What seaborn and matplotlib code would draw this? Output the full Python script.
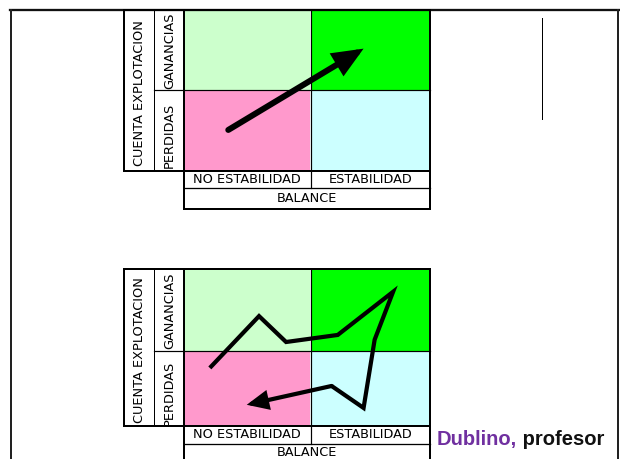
import matplotlib
matplotlib.use('Agg')
import matplotlib.pyplot as plt
from matplotlib.colors import ListedColormap
import pandas as pd
import seaborn as sns

# quadrant colours: ganancias row (no estab., estab.), perdidas row (no estab., estab.)
quadrant_colors = ['#CCFFCC', '#00FF00', '#FF99CC', '#CCFFFF']
quadrant_codes = [[0, 1], [2, 3]]
balance_labels = ['NO ESTABILIDAD', 'ESTABILIDAD']
cuenta_labels = ['GANANCIAS', 'PERDIDAS']
balance_title = 'BALANCE'
cuenta_title = 'CUENTA EXPLOTACION'

# paths in grid units: x 0..2 (balance, left->right), y 0..2 (cuenta, bottom->top)
path_top_x = [0.36, 1.46]
path_top_y = [0.51, 1.52]
path_bottom_x = [0.21, 0.61, 0.83, 1.25, 1.70, 1.55, 1.46, 1.20, 0.51]
path_bottom_y = [0.74, 1.40, 1.07, 1.16, 1.71, 1.10, 0.23, 0.51, 0.27]

caption_name = 'Dublino,'
caption_rest = ' profesor'

W, H = 620, 459
PX = 0.72  # points per pixel at dpi 100

sns.set_style('white')
plt.rcParams['font.family'] = ['DejaVu Sans']

fig = plt.figure(figsize=(W / 100, H / 100), dpi=100)
cmap = ListedColormap(quadrant_colors)


def frac(x0, y0, x1, y1):
    return [x0 / W, 1 - y1 / H, (x1 - x0) / W, (y1 - y0) / H]


# diagram layout (pixels)
diagrams = [dict(top=10, mid=90, bottom=171, row1=188, row2=209),
            dict(top=269, mid=351, bottom=426, row1=444, row2=462)]
X0, X1, X2, X3, X4 = 124, 154, 184, 310.5, 430

# quadrant cells drawn as seaborn heatmaps (one cell per axes, the cells are not equal)
for d in diagrams:
    rows = [(d['top'], d['mid']), (d['mid'], d['bottom'])]
    cols = [(X2, X3), (X3, X4)]
    for r, (y0, y1) in enumerate(rows):
        for c, (x0, x1) in enumerate(cols):
            hax = fig.add_axes(frac(x0, y0, x1, y1))
            df = pd.DataFrame([[quadrant_codes[r][c]]], index=[cuenta_labels[r]],
                              columns=[balance_labels[c]])
            sns.heatmap(df, cmap=cmap, vmin=0, vmax=3, cbar=False, linewidths=0,
                        xticklabels=False, yticklabels=False, ax=hax)
            hax.set_xlabel('')
            hax.set_ylabel('')

# overlay for frame, borders and labels
ov = fig.add_axes([0, 0, 1, 1])
ov.set_xlim(0, W)
ov.set_ylim(H, 0)
ov.axis('off')
ov.patch.set_alpha(0)


def seg(x0, y0, x1, y1, px=1.0, color='black'):
    ov.plot([x0, x1], [y0, y1], color=color, lw=px * PX, solid_capstyle='projecting')


# page frame
seg(10, 9.5, 619, 9.5, 2.3, '#111111')
seg(11.3, 9.5, 11.3, 470, 2.0, '#222222')
seg(618.3, 9.5, 618.3, 470, 2.0, '#222222')
seg(542.3, 18, 542.3, 119, 1.0)

lab_font = dict(fontsize=9.3, color='black', family='DejaVu Sans')
for d in diagrams:
    t, m, b, r1, r2 = d['top'], d['mid'], d['bottom'], d['row1'], d['row2']
    seg(X0, t, X4, t, 2.0)
    seg(X0, t, X0, b, 2.0)
    seg(X0, b, X4, b, 2.0)
    seg(X1, t, X1, b, 1.0)
    seg(X1, m, X4, m, 1.2)
    seg(X3, t, X3, r1, 1.2)
    seg(X2, t, X2, r2, 2.0)
    seg(X4, t, X4, r2, 2.0)
    seg(X2, r1, X4, r1, 1.3)
    seg(X2, r2, X4, r2, 2.0)

    ov.text((X0 + X1) / 2 + 0.5, (t + b) / 2 + 3, cuenta_title, rotation=90,
            ha='center', va='center', **lab_font)
    ov.text((X1 + X2) / 2 + 0.5, (t + m) / 2 + 1, cuenta_labels[0], rotation=90,
            ha='center', va='center', **lab_font)
    ov.text((X1 + X2) / 2 + 0.5, (m + b) / 2 + 5, cuenta_labels[1], rotation=90,
            ha='center', va='center', **lab_font)
    ov.text((X2 + X3) / 2, (b + r1) / 2, balance_labels[0], ha='center', va='center', **lab_font)
    ov.text((X3 + X4) / 2, (b + r1) / 2, balance_labels[1], ha='center', va='center', **lab_font)
    ov.text((X2 + X4) / 2, (r1 + r2) / 2, balance_title, ha='center', va='center', **lab_font)

# caption
t1 = ov.text(436.5, 445, caption_name, color='#7030A0', fontsize=14.5,
             fontweight='bold', family='Liberation Sans', ha='left', va='baseline')
ov.annotate(caption_rest, xy=(1, 0), xycoords=t1, color='#111111', fontsize=14.5,
            fontweight='bold', family='Liberation Sans', ha='left', va='bottom')

# paths on top of each grid
for d, xs, ys, lw_px, hl, hw in [(diagrams[0], path_top_x, path_top_y, 6.0, 0.75, 0.32),
                                 (diagrams[1], path_bottom_x, path_bottom_y, 4.2, 0.55, 0.25)]:
    pax = fig.add_axes(frac(X2, d['top'], X4, d['bottom']))
    pax.set_xlim(0, 2)
    pax.set_ylim(0, 2)
    pax.axis('off')
    pax.patch.set_alpha(0)
    if len(xs) > 2:
        pax.plot(xs[:-1], ys[:-1], color='black', lw=lw_px * PX,
                 solid_joinstyle='miter', solid_capstyle='butt')
    pax.annotate('', xy=(xs[-1], ys[-1]), xytext=(xs[-2], ys[-2]),
                 arrowprops=dict(arrowstyle=f'-|>,head_length={hl},head_width={hw}',
                                 lw=lw_px * PX, color='black', shrinkA=0, shrinkB=0,
                                 mutation_scale=20, joinstyle='miter'))

fig.savefig('out.png', dpi=100)
